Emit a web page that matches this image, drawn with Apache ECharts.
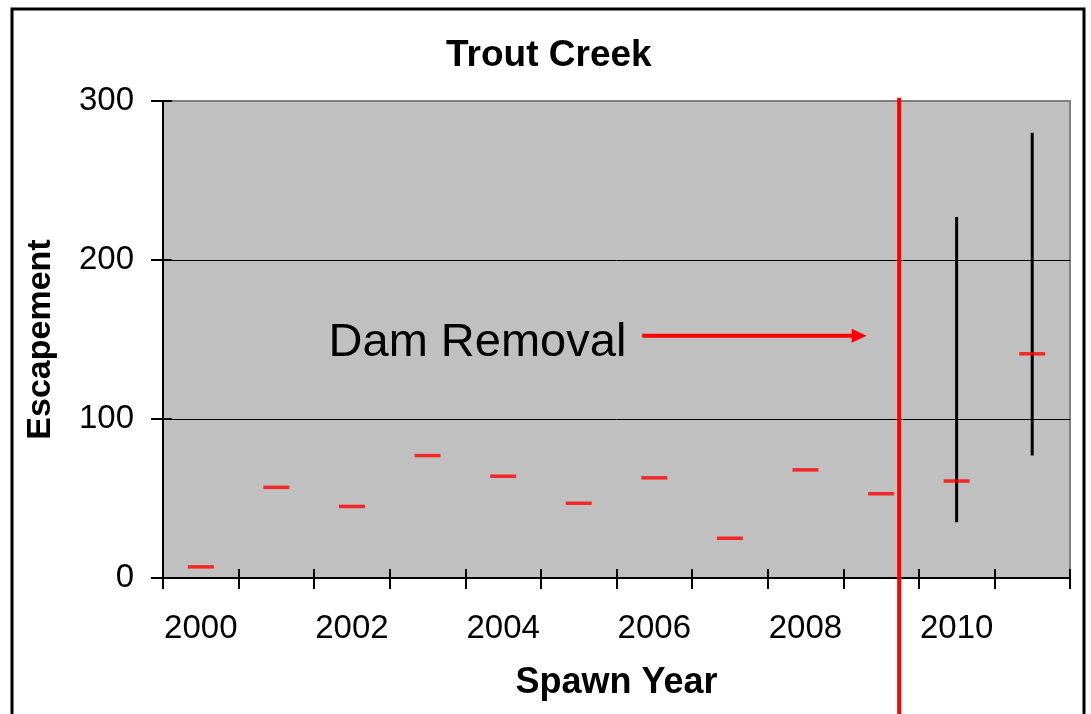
<!DOCTYPE html>
<html>
<head>
<meta charset="utf-8">
<script src="https://cdn.jsdelivr.net/npm/echarts@6/dist/echarts.min.js"></script>
<style>
  html, body { margin: 0; padding: 0; background: #fff; }
  #trout-creek-chart { width: 1091px; height: 714px; }
</style>
</head>
<body>
<div id="trout-creek-chart"></div>
<script>
// spawn years and escapement estimates
const years = ['2000', '2001', '2002', '2003', '2004', '2005', '2006', '2007', '2008', '2009', '2010', '2011'];
const escapement = [7, 57, 45, 77, 64, 47, 63, 25, 68, 53, 61, 141];
// confidence ranges only exist for the last two years
const ciYears = ['2010', '2011'];
const ciLow = [35, 77];
const ciHigh = [227, 280];
const yTicks = [0, 100, 200, 300];

// annotation, in data units of the hidden 0..12 x axis
const damX = 9.74;
const damTop = 302;
const damBottom = -90;
const arrowFrom = 6.34;
const arrowTo = 9.31;
const arrowY = 152.4;
const labelRight = 6.13;
const labelY = 147.8;

const FONT = "'Liberation Sans', Arial, sans-serif";

const myChart = echarts.init(document.getElementById('trout-creek-chart'));

const errorData = ciYears.map((y, i) => [years.indexOf(y), ciLow[i], ciHigh[i]]);

const option = {
  animation: false,
  backgroundColor: '#fff',
  textStyle: { fontFamily: FONT },
  title: {
    text: 'Trout Creek',
    left: 441,
    top: 32,
    textStyle: { fontFamily: FONT, fontSize: 37, fontWeight: 'bold', color: '#000' }
  },
  grid: {
    left: 163,
    right: 21,
    top: 101,
    bottom: 136,
    show: true,
    backgroundColor: '#C0C0C0',
    borderColor: '#808080',
    borderWidth: 2
  },
  xAxis: [
    {
      type: 'category',
      data: years,
      position: 'bottom',
      boundaryGap: true,
      name: 'Spawn Year',
      nameLocation: 'middle',
      nameGap: 87,
      nameTextStyle: { fontFamily: FONT, fontSize: 36, fontWeight: 'bold', color: '#000' },
      axisLine: { show: true, lineStyle: { color: '#000', width: 2 } },
      axisTick: { show: true, interval: 0, length: 11, lineStyle: { color: '#000', width: 2 } },
      axisLabel: { interval: 1, margin: 34, fontFamily: FONT, fontSize: 33, color: '#000' },
      splitLine: { show: false }
    },
    {
      // second copy only for the inward half of the crossing ticks
      type: 'category',
      data: years,
      position: 'bottom',
      boundaryGap: true,
      axisLine: { show: false },
      axisTick: { show: true, inside: true, interval: 0, length: 9, lineStyle: { color: '#000', width: 2 } },
      axisLabel: { show: false },
      splitLine: { show: false }
    },
    {
      // hidden linear axis for the dam removal annotation
      type: 'value',
      min: 0,
      max: 12,
      show: false
    }
  ],
  yAxis: [
    {
      type: 'value',
      position: 'left',
      min: 0,
      max: 300,
      interval: 100,
      name: 'Escapement',
      nameLocation: 'middle',
      nameGap: 105,
      nameRotate: 90,
      nameTextStyle: { fontFamily: FONT, fontSize: 34, fontWeight: 'bold', color: '#000' },
      axisLine: { show: true, lineStyle: { color: '#000', width: 2 } },
      axisTick: { show: true, length: 12, lineStyle: { color: '#000', width: 2 } },
      axisLabel: {
        margin: 29,
        fontFamily: FONT,
        fontSize: 33,
        color: '#000',
        formatter: (v) => (yTicks.indexOf(v) >= 0 ? String(v) : '')
      },
      splitLine: {
        show: true,
        showMinLine: false,
        showMaxLine: false,
        lineStyle: { color: '#000', width: 1 }
      }
    },
    {
      type: 'value',
      position: 'left',
      min: 0,
      max: 300,
      interval: 100,
      axisLine: { show: false },
      axisTick: { show: true, inside: true, length: 9, lineStyle: { color: '#000', width: 2 } },
      axisLabel: { show: false },
      splitLine: { show: false }
    }
  ],
  series: [
    {
      name: 'range',
      type: 'custom',
      xAxisIndex: 0,
      yAxisIndex: 0,
      encode: { x: 0, y: [1, 2] },
      data: errorData,
      renderItem(params, api) {
        const x = api.value(0);
        const lo = api.coord([x, api.value(1)]);
        const hi = api.coord([x, api.value(2)]);
        return {
          type: 'line',
          shape: { x1: lo[0], y1: lo[1], x2: hi[0], y2: hi[1] },
          style: { stroke: '#000', lineWidth: 3 }
        };
      },
      z: 2
    },
    {
      name: 'Escapement',
      type: 'scatter',
      xAxisIndex: 0,
      yAxisIndex: 0,
      data: escapement,
      symbol: 'rect',
      symbolSize: [26, 3.5],
      itemStyle: { color: '#FF0000' },
      z: 3
    }
  ]
};

myChart.setOption(option);

// dam removal line, arrow and label placed through the hidden axis
const px = (x, y) => myChart.convertToPixel({ xAxisIndex: 2, yAxisIndex: 0 }, [x, y]);
const dTop = px(damX, damTop);
const dBot = px(damX, damBottom);
const aFrom = px(arrowFrom, arrowY);
const aTip = px(arrowTo, arrowY);
const lab = px(labelRight, labelY);

myChart.setOption({
  graphic: [
    {
      type: 'rect',
      shape: { x: 12, y: 9, width: 1072, height: 800 },
      style: { fill: 'none', stroke: '#000', lineWidth: 3 },
      z: 0
    },
    {
      type: 'line',
      shape: { x1: dTop[0], y1: dTop[1], x2: dBot[0], y2: dBot[1] },
      style: { stroke: '#FF0000', lineWidth: 4 },
      z: 10
    },
    {
      type: 'line',
      shape: { x1: aFrom[0], y1: aFrom[1], x2: aTip[0] - 14, y2: aTip[1] },
      style: { stroke: '#FF0000', lineWidth: 4 },
      z: 10
    },
    {
      type: 'polygon',
      shape: { points: [[aTip[0], aTip[1]], [aTip[0] - 15, aTip[1] - 7], [aTip[0] - 15, aTip[1] + 7]] },
      style: { fill: '#FF0000' },
      z: 10
    },
    {
      type: 'text',
      x: lab[0],
      y: lab[1],
      style: {
        text: 'Dam Removal',
        font: '47px ' + FONT,
        fill: '#000',
        align: 'right',
        verticalAlign: 'middle'
      },
      z: 10
    }
  ]
});
</script>
</body>
</html>
